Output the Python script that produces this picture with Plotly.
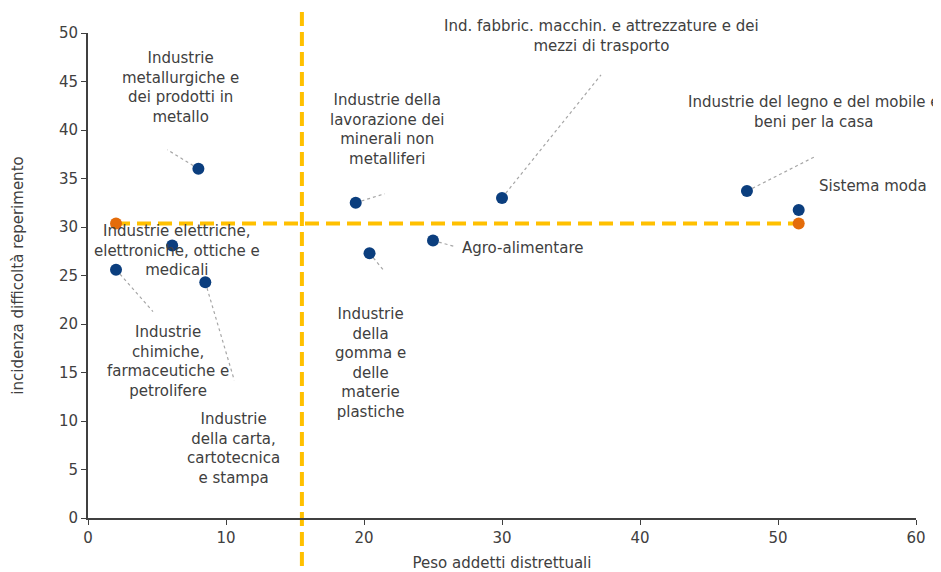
import plotly.graph_objects as go

# ---- data ----
sectors = [
    "Industrie<br>metallurgiche e<br>dei prodotti in<br>metallo",
    "Industrie elettriche,<br>elettroniche, ottiche e<br>medicali",
    "Industrie<br>chimiche,<br>farmaceutiche e<br>petrolifere",
    "Industrie<br>della carta,<br>cartotecnica<br>e stampa",
    "Industrie della<br>lavorazione dei<br>minerali non<br>metalliferi",
    "Industrie<br>della<br>gomma e<br>delle<br>materie<br>plastiche",
    "Agro-alimentare",
    "Ind. fabbric. macchin. e attrezzature e dei<br>mezzi di trasporto",
    "Industrie del legno e del mobile e<br>beni per la casa",
    "Sistema moda",
]
peso_addetti = [8.0, 6.1, 2.03, 8.5, 19.4, 20.4, 25.0, 30.0, 47.75, 51.5]
incidenza = [36.0, 28.1, 25.6, 24.3, 32.5, 27.3, 28.6, 33.0, 33.7, 31.75]

avg_x = [2.03, 51.5]
avg_y = [30.35, 30.35]
avg_peso = 15.5

x_ticks = [0, 10, 20, 30, 40, 50, 60]
y_ticks = [0, 5, 10, 15, 20, 25, 30, 35, 40, 45, 50]

# ---- styling (label/leader offsets in pixels) ----
label_pos = [  # xshift, yshift, xanchor
    (-18, 81, "center"),
    (5, -5, "center"),
    (52, -92, "center"),
    (28, -166, "center"),
    (31, 73, "center"),
    (1, -110, "center"),
    (27, -7, "left"),
    (99, 162, "center"),
    (67, 79, "center"),
    (18, 24, "left"),
]
leaders = [(-31, 19), None, (37, -42), (29, -98), (29, 9), (14, -17), (22, -6), (99, 123), (67, 34), None]

FONT = "DejaVu Sans, sans-serif"
FS = 15
TXT = "#404040"
GOLD = "#FFC000"
ORANGE = "#E46C0A"
NAVY = "#0B3E7E"

fig = go.Figure()

fig.add_trace(go.Scatter(
    x=avg_x, y=avg_y, mode="lines+markers",
    line=dict(color=GOLD, width=4, dash="14px,7px"),
    marker=dict(color=ORANGE, size=12),
    hoverinfo="skip", showlegend=False,
))

fig.add_trace(go.Scatter(
    x=peso_addetti, y=incidenza, mode="markers",
    marker=dict(color=NAVY, size=12),
    showlegend=False,
))

shapes = [dict(type="line", xref="x", yref="paper", x0=avg_peso, x1=avg_peso,
               y0=-0.14, y1=1.052, line=dict(color=GOLD, width=4, dash="14px,6px"),
               layer="below")]
for xi, yi, ld in zip(peso_addetti, incidenza, leaders):
    if ld is None:
        continue
    shapes.append(dict(type="line", xref="x", yref="y",
                       xsizemode="pixel", ysizemode="pixel",
                       xanchor=xi, yanchor=yi, x0=0, x1=ld[0], y0=0, y1=ld[1],
                       line=dict(color="#A6A6A6", width=1.2, dash="dot"),
                       layer="below"))

annotations = []
for xi, yi, name, (xs, ys, xa) in zip(peso_addetti, incidenza, sectors, label_pos):
    annotations.append(dict(x=xi, y=yi, xref="x", yref="y", text=name, showarrow=False,
                            xshift=xs, yshift=ys, xanchor=xa, yanchor="middle", align="center",
                            font=dict(family=FONT, size=FS, color=TXT)))

# page body has an 8px margin: figure is sized/offset to compensate
fig.update_layout(
    width=933, height=564,
    margin=dict(l=80, r=25, t=25, b=54, autoexpand=False),
    paper_bgcolor="white", plot_bgcolor="white",
    font=dict(family=FONT, size=FS, color=TXT),
    shapes=shapes, annotations=annotations,
    xaxis=dict(range=[0, 60], tickvals=x_ticks, showgrid=False, zeroline=False,
               automargin=False,
               showline=True, linecolor="#404040", linewidth=2, ticks="outside",
               ticklen=5, tickcolor="#404040", tickfont=dict(size=FS, color=TXT),
               title=dict(text="Peso addetti distrettuali", font=dict(size=FS, color=TXT), standoff=14)),
    yaxis=dict(range=[0, 50], tickvals=y_ticks, showgrid=False, zeroline=False,
               automargin=False,
               showline=True, linecolor="#404040", linewidth=2, ticks="outside",
               ticklen=5, tickcolor="#404040", tickfont=dict(size=FS, color=TXT),
               title=dict(text="incidenza difficoltà reperimento", font=dict(size=FS, color=TXT), standoff=32)),
)

fig.write_html("out.html")
